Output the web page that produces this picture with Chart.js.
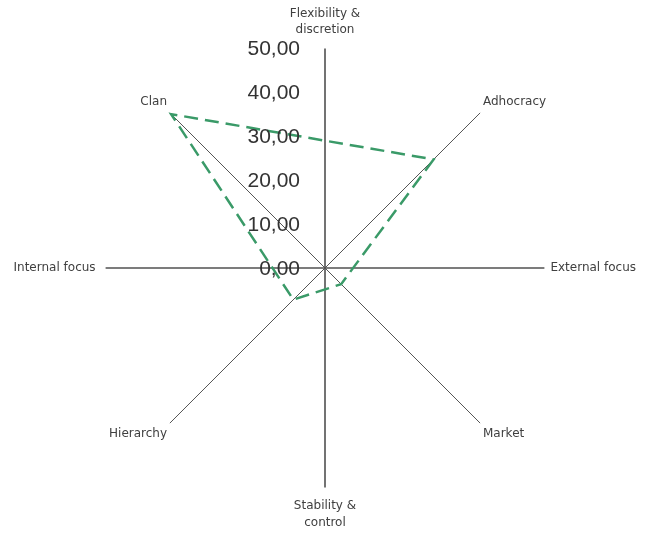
<!DOCTYPE html>
<html>
<head>
<meta charset="utf-8">
<script src="https://cdn.jsdelivr.net/npm/chart.js@4"></script>
<style>
  html, body { margin: 0; padding: 0; background: #fff; }
  #wrap { width: 649px; height: 535px; }
</style>
</head>
<body>
<div id="wrap"><canvas id="grafica"></canvas></div>
<script>
const categorias = [
  ['Flexibility &', 'discretion'],
  'Adhocracy',
  'External focus',
  'Market',
  ['Stability &', 'control'],
  'Hierarchy',
  'Internal focus',
  'Clan'
];
// only the four culture types carry a value, the other spokes are just axes
const valores = [null, 35.0, null, 5.2, null, 10.2, null, 49.6];
const ticksValores = [0, 10, 20, 30, 40, 50];
const ticksEtiquetas = ['0,00', '10,00', '20,00', '30,00', '40,00', '50,00'];

// draws the value labels left of the vertical axis, right aligned
const etiquetasEje = {
  id: 'etiquetasEje',
  afterDatasetsDraw(chart) {
    const scale = chart.scales.r;
    const ctx = chart.ctx;
    ctx.save();
    ctx.font = '21px "Liberation Sans", Arial, sans-serif';
    ctx.fillStyle = '#333333';
    ctx.textAlign = 'right';
    ctx.textBaseline = 'middle';
    ticksValores.forEach((v, i) => {
      const y = scale.yCenter - scale.getDistanceFromCenterForValue(v);
      ctx.fillText(ticksEtiquetas[i], scale.xCenter - 25, y + 1);
    });
    ctx.restore();
  }
};

const ctx = document.getElementById('grafica').getContext('2d');
const chart = new Chart(ctx, {
  type: 'radar',
  data: {
    labels: categorias,
    datasets: [{
      label: 'Now',
      data: valores,
      borderColor: '#3a9a68',
      backgroundColor: 'rgba(0,0,0,0)',
      borderWidth: 2.5,
      borderDash: [14, 7],
      fill: false,
      spanGaps: true,
      pointRadius: 0,
      pointHoverRadius: 0,
      tension: 0
    }]
  },
  options: {
    responsive: true,
    maintainAspectRatio: false,
    animation: false,
    layout: { padding: { top: 5, bottom: 3, left: 2, right: 0 } },
    plugins: {
      legend: { display: false },
      tooltip: { enabled: false }
    },
    scales: {
      r: {
        min: 0,
        max: 50,
        ticks: { display: false, stepSize: 10 },
        grid: { display: false },
        angleLines: {
          color: function(c) { return c.index % 2 === 0 ? '#505050' : '#555555'; },
          lineWidth: function(c) { return c.index % 2 === 0 ? 1.6 : 1; }
        },
        pointLabels: {
          padding: function(c) {
            if (c.index % 2 === 1) return 4;
            if (c.index === 2) return 6;
            return 10;
          },
          color: '#404040',
          font: { family: '"DejaVu Sans", Verdana, sans-serif', size: 12, lineHeight: 1.4 }
        }
      }
    }
  },
  plugins: [etiquetasEje]
});
</script>
</body>
</html>
